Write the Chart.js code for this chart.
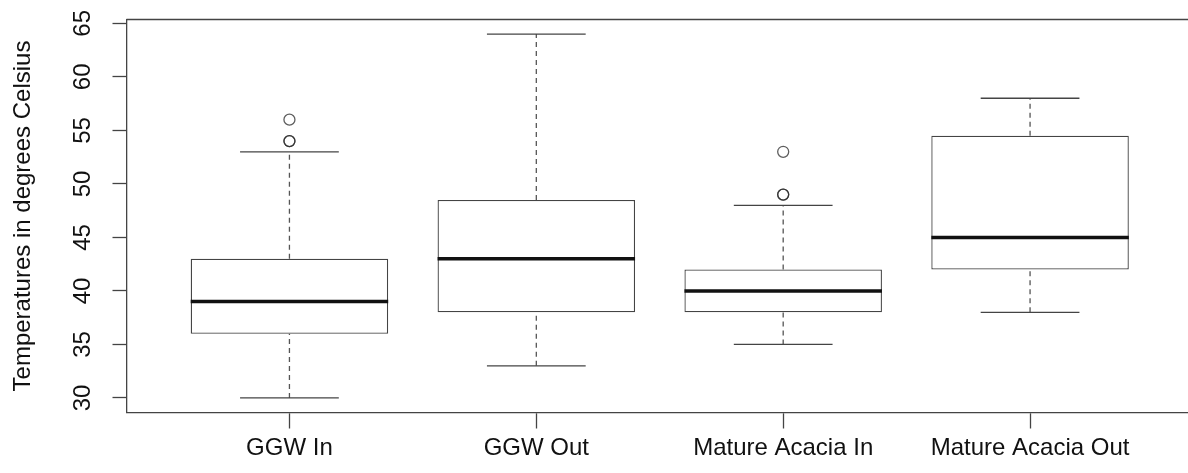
<!DOCTYPE html>
<html>
<head>
<meta charset="utf-8">
<script src="https://cdn.jsdelivr.net/npm/chart.js@4.4.0/dist/chart.umd.min.js"></script>
<style>
html, body { margin: 0; padding: 0; background: #fff; overflow: hidden; }
canvas { display: block; }
</style>
</head>
<body>
<canvas id="temp-graph" width="1200" height="473"></canvas>
<script>
const groups = ["GGW In", "GGW Out", "Mature Acacia In", "Mature Acacia Out"]
const whiskerLow = [30, 33, 35, 38]
const boxLow = [36, 38, 38, 42]
const medians = [39, 43, 40, 45]
const boxHigh = [43, 48.5, 42, 54.5]
const whiskerHigh = [53, 64, 48, 58]
// outliers (group number, value) - repeated values are overplotted
const outlierGroup = [1, 1, 1, 3, 3, 3]
const outlierValue = [54, 54, 56, 49, 49, 53]
const yTicks = [30, 35, 40, 45, 50, 55, 60, 65]

const FONT = "'Liberation Sans', Arial, sans-serif"
const LINE = "#444"

// R style 4% padding around the data range
const lo = Math.min(...whiskerLow, ...outlierValue)
const hi = Math.max(...whiskerHigh, ...outlierValue)
const yPad = (hi - lo) * 0.04
const xPad = groups.length * 0.04

const boxPlot = {
    id: "boxPlot",
    afterDatasetsDraw(chart) {
        const ctx = chart.ctx
        const xs = chart.scales.x
        const ys = chart.scales.y
        const line = (x1, y1, x2, y2) => {
            ctx.beginPath()
            ctx.moveTo(x1, y1)
            ctx.lineTo(x2, y2)
            ctx.stroke()
        }
        ctx.save()
        groups.forEach((g, i) => {
            const cx = xs.getPixelForValue(i + 1)
            const capL = xs.getPixelForValue(i + 1 - 0.2)
            const capR = xs.getPixelForValue(i + 1 + 0.2)
            const boxL = xs.getPixelForValue(i + 1 - 0.4)
            const boxR = xs.getPixelForValue(i + 1 + 0.4)

            // whiskers
            ctx.strokeStyle = "#555"
            ctx.lineWidth = 1.3
            ctx.setLineDash([5, 4])
            line(cx, ys.getPixelForValue(whiskerLow[i]), cx, ys.getPixelForValue(boxLow[i]))
            line(cx, ys.getPixelForValue(boxHigh[i]), cx, ys.getPixelForValue(whiskerHigh[i]))
            ctx.setLineDash([])

            // staples
            ctx.strokeStyle = LINE
            line(capL, ys.getPixelForValue(whiskerLow[i]), capR, ys.getPixelForValue(whiskerLow[i]))
            line(capL, ys.getPixelForValue(whiskerHigh[i]), capR, ys.getPixelForValue(whiskerHigh[i]))

            // median
            ctx.strokeStyle = "#111"
            ctx.lineWidth = 3.5
            line(boxL, ys.getPixelForValue(medians[i]), boxR, ys.getPixelForValue(medians[i]))
        })
        // top of the frame
        const a = chart.chartArea
        ctx.strokeStyle = LINE
        ctx.lineWidth = 1.3
        line(a.left, a.top, a.right, a.top)
        line(a.right, a.top, a.right, a.bottom)
        ctx.restore()
    },
    afterDraw(chart) {
        // y tick labels are drawn turned, like R does
        const ctx = chart.ctx
        const ys = chart.scales.y
        ctx.save()
        ctx.fillStyle = "#111"
        ctx.font = "24px " + FONT
        ctx.textAlign = "center"
        ctx.textBaseline = "middle"
        ys.ticks.forEach(t => {
            ctx.save()
            ctx.translate(83, ys.getPixelForValue(t.value))
            ctx.rotate(-Math.PI / 2)
            ctx.fillText(String(t.value), 0, 0)
            ctx.restore()
        })
        ctx.restore()
    }
}

new Chart(document.getElementById("temp-graph"), {
    type: "bar",
    data: {
        datasets: [{
            type: "bar",
            data: groups.map((g, i) => ({ x: i + 1, y: [boxLow[i], boxHigh[i]] })),
            backgroundColor: "#fff",
            borderColor: LINE,
            borderWidth: 1.3,
            borderSkipped: false,
            barPercentage: 0.8,
            categoryPercentage: 1
        }, {
            type: "scatter",
            data: outlierGroup.map((g, i) => ({ x: g, y: outlierValue[i] })),
            pointRadius: 5.5,
            pointBorderWidth: 1.3,
            pointBorderColor: "rgba(40,40,40,0.75)",
            pointBackgroundColor: "rgba(0,0,0,0)"
        }]
    },
    plugins: [boxPlot],
    options: {
        responsive: false,
        animation: false,
        layout: { padding: { top: 19.5, right: 7, left: 0, bottom: 0 } },
        plugins: {
            legend: { display: false },
            tooltip: { enabled: false }
        },
        scales: {
            x: {
                type: "linear",
                offset: false,
                min: 1 - 0.5 - xPad,
                max: groups.length + 0.5 + xPad,
                afterBuildTicks: s => { s.ticks = groups.map((g, i) => ({ value: i + 1 })) },
                ticks: {
                    callback: (v, i) => groups[i],
                    font: { size: 24, family: FONT },
                    color: "#111",
                    padding: 5,
                    maxRotation: 0,
                    autoSkip: false
                },
                grid: { offset: false, drawOnChartArea: false, tickLength: 16, color: LINE, tickWidth: 1.3 },
                border: { color: LINE, width: 1.3 },
                afterFit: s => { s.height = 60.5 }
            },
            y: {
                type: "linear",
                min: lo - yPad,
                max: hi + yPad,
                afterBuildTicks: s => { s.ticks = yTicks.map(v => ({ value: v })) },
                ticks: { display: false },
                grid: { drawOnChartArea: false, tickLength: 14, color: LINE, tickWidth: 1.3 },
                border: { color: LINE, width: 1.3 },
                title: {
                    display: true,
                    text: "Temperatures in degrees Celsius",
                    font: { size: 24, family: FONT },
                    color: "#111",
                    padding: { top: 9, bottom: 0 }
                },
                afterFit: s => { s.width = 126.5 }
            }
        }
    }
})
</script>
</body>
</html>
